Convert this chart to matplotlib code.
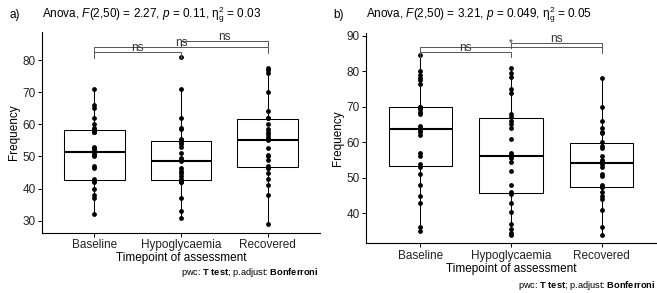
import numpy as np
import matplotlib
matplotlib.use("Agg")
import matplotlib.pyplot as plt

plt.rcParams['font.family'] = ['Liberation Sans', 'DejaVu Sans']
plt.rcParams['mathtext.fontset'] = 'custom'
plt.rcParams['mathtext.rm'] = 'Liberation Sans'
plt.rcParams['mathtext.it'] = 'Liberation Sans:italic'
plt.rcParams['mathtext.bf'] = 'Liberation Sans:bold'

# categories
groups = ['Baseline', 'Hypoglycaemia', 'Recovered']

# panel a values
a_baseline = [32, 37, 38, 40, 42, 42.5, 42.5, 43, 46.5, 47, 50, 50.5, 51,
              52, 52.5, 53, 57.5, 57.5, 58, 58.5, 59, 60, 62, 65, 66, 71]
a_hypo = [31, 33, 37, 42, 42, 42.5, 42.5, 43, 44, 45, 45.5, 46.5, 48.5,
          49, 49.5, 51, 53, 54, 54.5, 55, 55.5, 58.5, 59, 62, 71, 81]
a_recovered = [29, 38, 41, 43, 45, 46.5, 46.5, 47, 49, 50, 50.5, 52.5, 55,
               55.5, 56, 57, 57.5, 58.5, 60, 62, 62, 64, 70, 76, 77, 77.5]

# panel b values
b_baseline = [35, 36, 43, 45, 48, 51, 53, 54, 56, 57, 62, 63, 63.5, 64,
              64.5, 68, 68.5, 69.5, 70, 70, 76.5, 77.5, 78, 79, 80, 84.5]
b_hypo = [34, 34.5, 35.5, 37, 40.5, 43, 45.5, 46, 48, 52, 54.5, 55.5, 56,
          56.5, 57, 61, 64, 65, 66, 67, 68, 74, 75, 78.5, 79.5, 81]
b_recovered = [34, 36, 41, 44, 45, 46, 47.5, 47.5, 48, 50.5, 51, 53, 54,
               54.5, 54.5, 55, 56, 58.5, 59, 60, 62.5, 63, 64, 66, 70, 78]

# pairwise comparisons: (group1, group2, bracket height, label)
a_pairs = [(0, 1, 82.4, 'ns'), (0, 2, 84.0, 'ns'), (1, 2, 85.9, 'ns')]
b_pairs = [(0, 1, 85.4, 'ns'), (0, 2, 86.7, '*'), (1, 2, 88.0, 'ns')]

a_title = r"Anova, $\mathit{F}$(2,50) = 2.27, $\mathit{p}$ = 0.11, $\mathrm{\eta}_\mathrm{g}^\mathrm{2}$ = 0.03"
b_title = r"Anova, $\mathit{F}$(2,50) = 3.21, $\mathit{p}$ = 0.049, $\mathrm{\eta}_\mathrm{g}^\mathrm{2}$ = 0.05"
caption = r"pwc: $\mathbf{T\ test}$; p.adjust: $\mathbf{Bonferroni}$"

W, H = 657, 293
fig = plt.figure(figsize=(W / 100, H / 100), dpi=100)


def px(x0, y0, x1, y1):
    return [x0 / W, 1 - y1 / H, (x1 - x0) / W, (y1 - y0) / H]


def panel(rect, data, ylim, yticks, pairs, tip, ns_off):
    ax = fig.add_axes(rect)
    ax.boxplot(data, positions=[0, 1, 2], widths=0.7, whis=1.5,
               showfliers=False, showcaps=False,
               boxprops=dict(color='black', linewidth=0.75),
               whiskerprops=dict(color='black', linewidth=0.75),
               medianprops=dict(color='black', linewidth=1.5))
    for i, vals in enumerate(data):
        ax.scatter(np.full(len(vals), i), vals, s=12, color='black', zorder=3,
                   linewidths=0)
    for g1, g2, h, lab in pairs:
        ax.plot([g1, g1, g2, g2], [h - tip, h, h, h - tip], color='#555555',
                lw=0.7, zorder=4)
        fs = 8.5 if lab == 'ns' else 7
        ax.text((g1 + g2) / 2, h + ns_off, lab, ha='center', va='center',
                fontsize=fs, color='#333333', zorder=5)
    ax.set_xlim(-0.6, 2.6)
    ax.set_ylim(*ylim)
    ax.set_yticks(yticks)
    ax.set_xticks([0, 1, 2])
    ax.set_xticklabels(groups)
    for s in ['top', 'right']:
        ax.spines[s].set_visible(False)
    for s in ['left', 'bottom']:
        ax.spines[s].set_linewidth(0.8)
    ax.tick_params(labelsize=8.5, length=3, width=0.7, pad=1.5,
                   labelcolor='#222222')
    ax.set_xlabel('Timepoint of assessment', fontsize=8.5, labelpad=1)
    ax.set_ylabel('Frequency', fontsize=8.5, labelpad=2)
    return ax


ax_a = panel(px(42, 31.7, 320, 232.7), [a_baseline, a_hypo, a_recovered],
             (26.3, 88.8), [30, 40, 50, 60, 70, 80], a_pairs, 1.7, 1.25)
ax_b = panel(px(366, 33, 656, 243.3), [b_baseline, b_hypo, b_recovered],
             (31.55, 90.76), [40, 50, 60, 70, 80, 90], b_pairs, 1.5, 1.2)

fig.text(10 / W, 1 - 15 / H, 'a)', fontsize=8.5, va='center')
fig.text(42 / W, 1 - 15 / H, a_title, fontsize=8.5, va='center')
fig.text(333 / W, 1 - 15 / H, 'b)', fontsize=8.5, va='center')
fig.text(366 / W, 1 - 15 / H, b_title, fontsize=8.5, va='center')

fig.text(319 / W, 1 - 272.7 / H, caption, fontsize=6.7, ha='right', va='center')
fig.text(656 / W, 1 - 285.7 / H, caption, fontsize=6.7, ha='right', va='center')

fig.savefig('out.png', dpi=100)
